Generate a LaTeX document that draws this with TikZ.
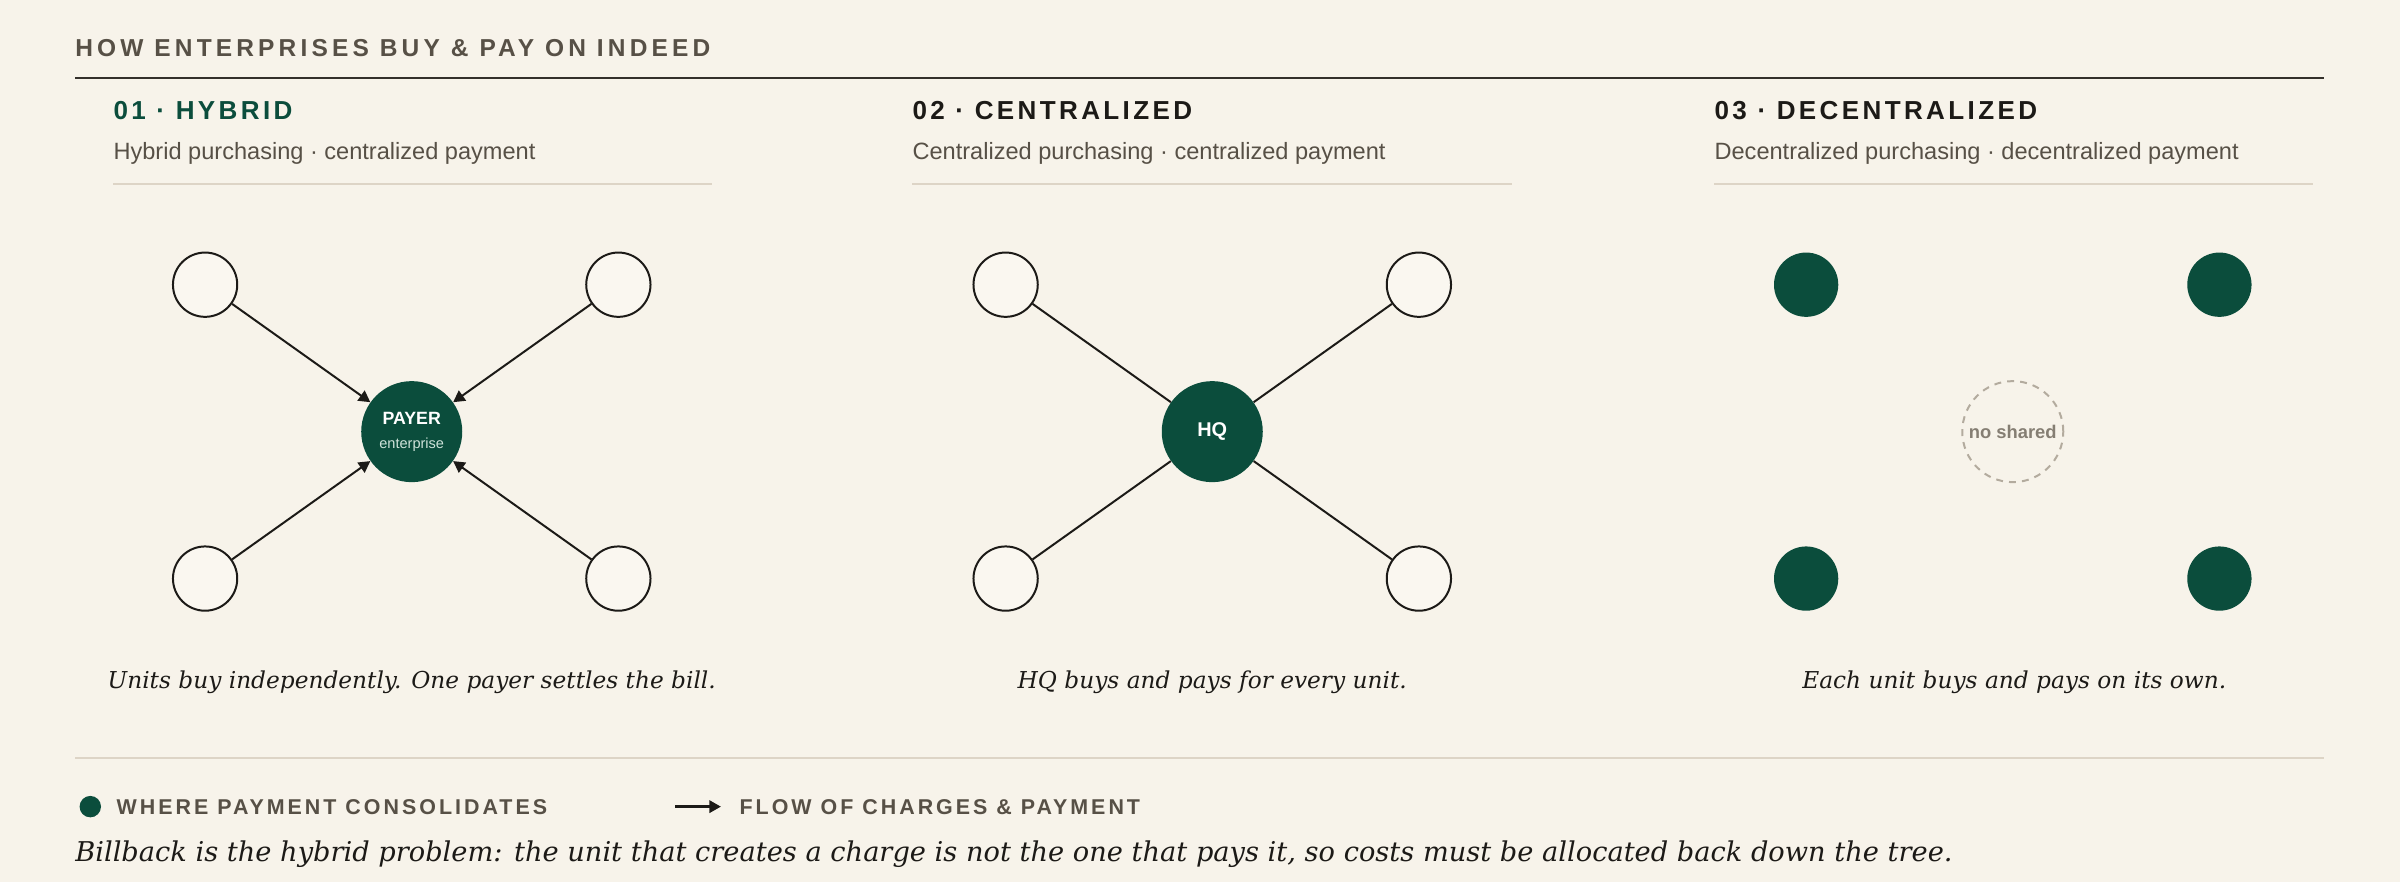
\documentclass[tikz,border=0pt]{standalone}
\usepackage{fontspec}
\setmainfont{DejaVu Serif}
\setsansfont{Liberation Sans}
\usepackage{tikz}
\usetikzlibrary{arrows,arrows.meta,positioning}

\definecolor{paper}{HTML}{F7F3EA}
\definecolor{unitfill}{HTML}{FAF7F0}
\definecolor{pine}{HTML}{0B4D3C}
\definecolor{ink}{HTML}{1C1A17}
\definecolor{slate}{HTML}{575046}
\definecolor{rulelight}{HTML}{DDD4C6}
\definecolor{ruledark}{HTML}{34302B}
\definecolor{ghost}{HTML}{B3AB9E}
\definecolor{ghosttext}{HTML}{857E73}
\definecolor{mint}{HTML}{CFE3DA}

\newcommand{\kicker}{\sffamily\bfseries\fontsize{16}{19}\selectfont\addfontfeature{LetterSpace=17}}
\newcommand{\panelhead}{\sffamily\bfseries\fontsize{17}{20}\selectfont\addfontfeature{LetterSpace=13}}
\newcommand{\panelsub}{\sffamily\fontsize{15.4}{18}\selectfont}
\newcommand{\keytext}{\sffamily\bfseries\fontsize{14}{17}\selectfont\addfontfeature{LetterSpace=14}}
\newcommand{\remark}{\itshape\fontsize{15.2}{18}\selectfont}

\tikzset{
  unit/.style={circle,draw=ink,line width=1.3pt,fill=unitfill,minimum size=42pt,inner sep=0pt},
  solo/.style={circle,fill=pine,minimum size=42pt,inner sep=0pt},
  hub/.style={circle,fill=pine,minimum size=66pt,inner sep=0pt,text=white,align=center},
  link/.style={draw=ink,line width=1.3pt},
  txt/.style={inner sep=0pt}
}

\begin{document}
\begin{tikzpicture}[x=1pt,y=-1pt,>={Triangle[length=7.5pt,width=8pt]}]
			\fill[paper] (0,0) rectangle (1568,576);
			\useasboundingbox (0,0) rectangle (1568,576);
			% header
			\node[txt,text=slate] (title) at (49,31.5) [anchor=west] {\kicker HOW ENTERPRISES BUY \& PAY ON INDEED};
			\draw[ruledark,line width=1.5pt] (49,51)--(1518,51);
			% 01 hybrid
			\node[txt,text=pine] (headA) at (74,72.5) [anchor=west] {\panelhead 01 · HYBRID};
			\node[txt,text=slate] (subA) at (74,100.5) [anchor=west] {\panelsub Hybrid purchasing · centralized payment};
			\draw[rulelight,line width=1.3pt] (74,120)--(465,120);
			\node[hub] (payer) at (269,282) {{\sffamily\bfseries\fontsize{11.6}{13}\selectfont PAYER}\\[3.5pt]{\sffamily\fontsize{9.5}{11}\selectfont\color{mint}enterprise}};
			\node[unit] (a1) at (134,186) {};
			\node[unit] (a2) at (404,186) {};
			\node[unit] (a3) at (134,378) {};
			\node[unit] (a4) at (404,378) {};
			\draw[link,->] (a1)--(payer);
			\draw[link,->] (a2)--(payer);
			\draw[link,->] (a3)--(payer);
			\draw[link,->] (a4)--(payer);
			\node[txt,text=ink] (capA) at (269,446) {\remark Units buy independently. One payer settles the bill.};
			% 02 centralized
			\node[txt,text=ink] (headB) at (596,72.5) [anchor=west] {\panelhead 02 · CENTRALIZED};
			\node[txt,text=slate] (subB) at (596,100.5) [anchor=west] {\panelsub Centralized purchasing · centralized payment};
			\draw[rulelight,line width=1.3pt] (596,120)--(988,120);
			\node[hub] (hq) at (792,282) {\sffamily\bfseries\fontsize{13}{15}\selectfont HQ};
			\node[unit] (b1) at (657,186) {};
			\node[unit] (b2) at (927,186) {};
			\node[unit] (b3) at (657,378) {};
			\node[unit] (b4) at (927,378) {};
			\draw[link] (b1)--(hq);
			\draw[link] (b2)--(hq);
			\draw[link] (b3)--(hq);
			\draw[link] (b4)--(hq);
			\node[txt,text=ink] (capB) at (792,446) {\remark HQ buys and pays for every unit.};
			% 03 decentralized
			\node[txt,text=ink] (headC) at (1120,72.5) [anchor=west] {\panelhead 03 · DECENTRALIZED};
			\node[txt,text=slate] (subC) at (1120,100.5) [anchor=west] {\panelsub Decentralized purchasing · decentralized payment};
			\draw[rulelight,line width=1.3pt] (1120,120)--(1511,120);
			\node[circle,draw=ghost,dash pattern=on 4.5pt off 4pt,line width=1.3pt,minimum size=66pt,inner sep=0pt,text=ghosttext] (none) at (1315,282) {\sffamily\bfseries\fontsize{12}{14}\selectfont no shared};
			\node[solo] (c1) at (1180,186) {};
			\node[solo] (c2) at (1450,186) {};
			\node[solo] (c3) at (1180,378) {};
			\node[solo] (c4) at (1450,378) {};
			\node[txt,text=ink] (capC) at (1316,446) {\remark Each unit buys and pays on its own.};
			% key
			\draw[rulelight,line width=1.3pt] (49,495)--(1518,495);
			\node[circle,fill=pine,minimum size=14pt,inner sep=0pt] (dot) at (59,527) {};
			\node[txt,text=slate] (keyA) at (76,527) [anchor=west] {\keytext WHERE PAYMENT CONSOLIDATES};
			\coordinate (flowtail) at (441,527);
			\coordinate (flowhead) at (471,527);
			\draw[ink,line width=1.6pt,->] (flowtail)--(flowhead);
			\node[txt,text=slate] (keyB) at (483,527) [anchor=west] {\keytext FLOW OF CHARGES \& PAYMENT};
			\node[txt,text=ink] (note) at (49,558) [anchor=west] {\itshape\fontsize{17.8}{21}\selectfont Billback is the hybrid problem: the unit that creates a charge is not the one that pays it, so costs must be allocated back down the tree.};
		\end{tikzpicture}
\end{document}
